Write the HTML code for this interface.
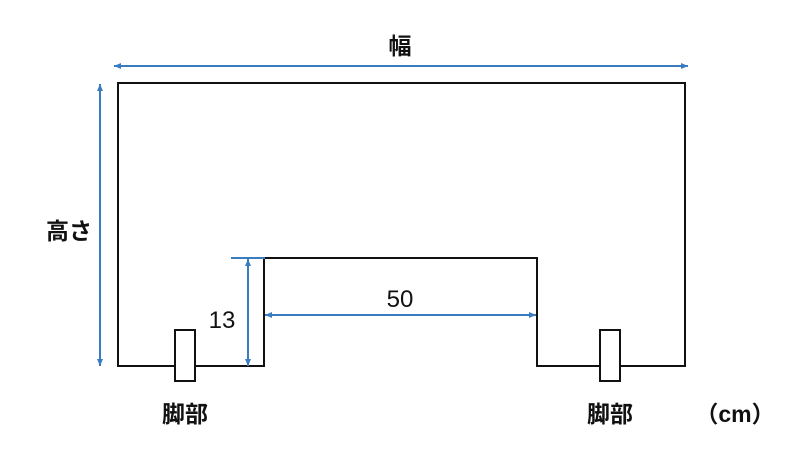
<!DOCTYPE html>
<html><head><meta charset="utf-8"><style>
body{margin:0;background:#fff;width:800px;height:450px;overflow:hidden}
svg text{font-family:"Liberation Sans","Noto Sans CJK JP",sans-serif;fill:#111}
</style></head><body>
<svg width="800" height="450" viewBox="0 0 800 450" xmlns="http://www.w3.org/2000/svg">
<defs>
<marker id="a" markerWidth="8" markerHeight="8" refX="7" refY="4" orient="auto-start-reverse" markerUnits="userSpaceOnUse">
<path d="M0,1 L7,4 L0,7 z" fill="#3a7cc0"/></marker>
</defs>
<path d="M118,366 V83 H685 V366 H537 V258 H264 V366 Z" fill="none" stroke="#111" stroke-width="2"/>
<rect x="175" y="330" width="20" height="51" fill="#fff" stroke="#111" stroke-width="2"/>
<rect x="600" y="330" width="20" height="51" fill="#fff" stroke="#111" stroke-width="2"/>
<g stroke="#3a7cc0" stroke-width="2" fill="none">
<line x1="114" y1="66" x2="688" y2="66" marker-start="url(#a)" marker-end="url(#a)"/>
<line x1="100" y1="84" x2="100" y2="366" marker-start="url(#a)" marker-end="url(#a)"/>
<line x1="248" y1="259" x2="248" y2="366" marker-start="url(#a)" marker-end="url(#a)"/>
<line x1="231" y1="258" x2="265" y2="258"/>
<line x1="265" y1="315" x2="536" y2="315" marker-start="url(#a)" marker-end="url(#a)"/>
</g>
<text x="400" y="54" font-size="23" text-anchor="middle" font-weight="bold">幅</text>
<text x="69" y="239" font-size="23" text-anchor="middle" font-weight="bold">高さ</text>
<text x="222" y="328" font-size="24" text-anchor="middle">13</text>
<text x="400" y="307" font-size="24" text-anchor="middle">50</text>
<text x="185" y="422" font-size="23" text-anchor="middle" font-weight="bold">脚部</text>
<text x="610" y="422" font-size="23" text-anchor="middle" font-weight="bold">脚部</text>
<text x="735" y="422" font-size="23" text-anchor="middle" font-weight="bold">（cm）</text>
</svg>
</body></html>
